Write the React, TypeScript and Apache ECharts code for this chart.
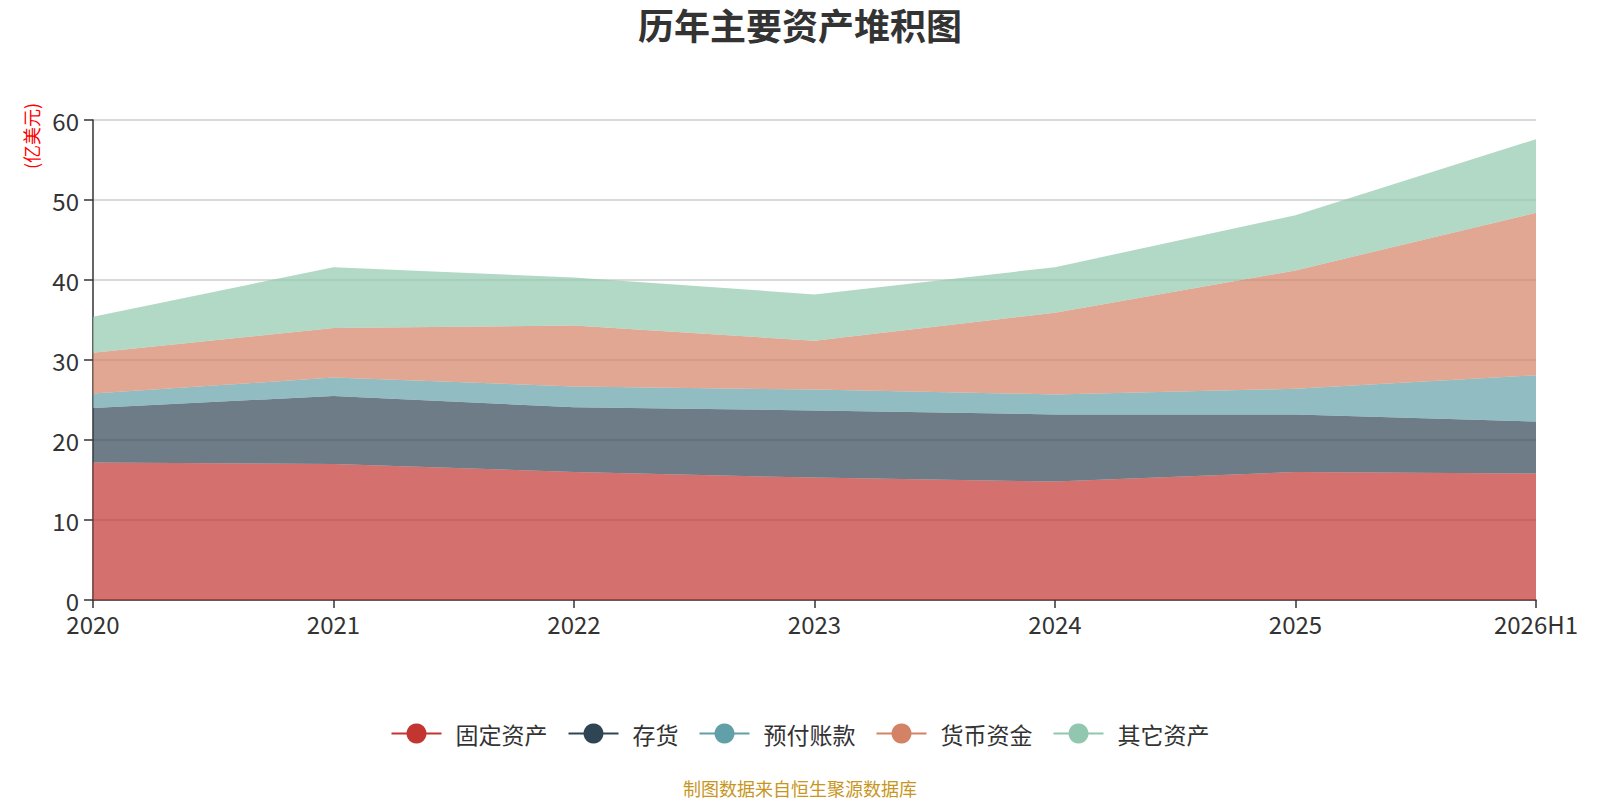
import React, { useEffect, useRef } from "react";
import * as echarts from "echarts";

const categories = ["2020", "2021", "2022", "2023", "2024", "2025", "2026H1"];
const fixedAssets = [17.2, 17.0, 16.0, 15.3, 14.8, 16.0, 15.8];
const inventory = [6.8, 8.5, 8.1, 8.4, 8.4, 7.2, 6.5];
const prepayments = [1.8, 2.3, 2.6, 2.6, 2.5, 3.2, 5.8];
const cash = [5.1, 6.2, 7.6, 6.1, 10.2, 14.8, 20.3];
const otherAssets = [4.5, 7.6, 6.0, 5.8, 5.7, 6.9, 9.2];
const seriesNames = ["固定资产", "存货", "预付账款", "货币资金", "其它资产"];
const colors = ["#c23531", "#2f4554", "#61a0a8", "#d48265", "#91c7ae"];

const FONT = "'Noto Sans CJK SC', 'Noto Sans', sans-serif";

export default function App() {
  const ref = useRef<HTMLDivElement>(null);
  useEffect(() => {
    if (!ref.current) return;
    const chart = echarts.init(ref.current, undefined, { renderer: "svg" });
    const data = [fixedAssets, inventory, prepayments, cash, otherAssets];
    chart.setOption({
      animation: false,
      color: colors,
      textStyle: { fontFamily: FONT },
      title: {
        text: "历年主要资产堆积图",
        left: "center",
        top: 6,
        padding: 0,
        textStyle: { fontSize: 36, fontWeight: "bold", color: "#333", fontFamily: FONT },
      },
      legend: {
        data: seriesNames,
        left: "center",
        top: 717,
        itemWidth: 50,
        itemHeight: 25,
        itemGap: 20,
        textStyle: { fontSize: 23, color: "#333", fontFamily: FONT, padding: [0, 0, 0, 9] },
        lineStyle: { width: 2 },
      },
      grid: { left: 93, right: 64, top: 120, bottom: 200, containLabel: false },
      xAxis: {
        type: "category",
        data: categories,
        boundaryGap: false,
        axisLine: { lineStyle: { color: "#333", width: 1.5 } },
        axisTick: { lineStyle: { color: "#333", width: 1.5 }, length: 8 },
        axisLabel: { fontSize: 24, color: "#333", margin: 11, fontFamily: FONT },
      },
      yAxis: {
        type: "value",
        min: 0,
        max: 60,
        interval: 10,
        axisLine: { show: true, lineStyle: { color: "#333", width: 1.5 } },
        axisTick: { show: true, lineStyle: { color: "#333", width: 1.5 }, length: 9 },
        axisLabel: { fontSize: 24, color: "#333", margin: 14, fontFamily: FONT },
        splitLine: { lineStyle: { color: "#ccc", width: 1.5 } },
      },
      graphic: [
        {
          type: "text",
          x: 31,
          y: 136,
          rotation: Math.PI / 2,
          style: {
            text: "(亿美元)",
            fill: "#ff0000",
            fontSize: 18,
            fontFamily: FONT,
            textAlign: "center",
            textVerticalAlign: "middle",
          },
        },
        {
          type: "text",
          left: "center",
          top: 779,
          style: {
            text: "制图数据来自恒生聚源数据库",
            fill: "#c8961e",
            fontSize: 18,
            fontFamily: FONT,
          },
        },
      ],
      series: seriesNames.map((name, i) => ({
        name,
        type: "line",
        stack: "total",
        data: data[i],
        symbol: "circle",
        showSymbol: false,
        lineStyle: { width: 0 },
        areaStyle: { opacity: 0.7 },
      })),
    });
    return () => chart.dispose();
  }, []);
  return (
    <div
      ref={ref}
      style={{ position: "absolute", left: 0, top: 0, width: 1600, height: 800 }}
    />
  );
}
